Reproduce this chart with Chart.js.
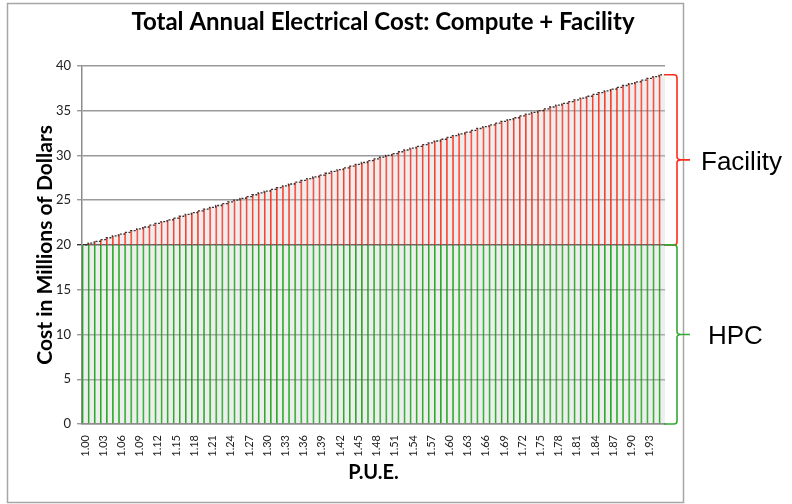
<!DOCTYPE html>
<html>
<head>
<meta charset="utf-8">
<script src="https://cdn.jsdelivr.net/npm/chart.js@4.4.1/dist/chart.umd.min.js"></script>
<style>
  html, body { margin: 0; padding: 0; background: #fff; }
  #wrap { width: 792px; height: 504px; }
</style>
</head>
<body>
<div id="wrap"><canvas id="myChart" width="792" height="504"></canvas></div>
<script>
// P.U.E. categories (every bar), labels shown on every 3rd
const pueLabels = [
    '1.00','1.01','1.02','1.03','1.04','1.05','1.06','1.07','1.08','1.09',
    '1.10','1.11','1.12','1.13','1.14','1.15','1.16','1.17','1.18','1.19',
    '1.20','1.21','1.22','1.23','1.24','1.25','1.26','1.27','1.28','1.29',
    '1.30','1.31','1.32','1.33','1.34','1.35','1.36','1.37','1.38','1.39',
    '1.40','1.41','1.42','1.43','1.44','1.45','1.46','1.47','1.48','1.49',
    '1.50','1.51','1.52','1.53','1.54','1.55','1.56','1.57','1.58','1.59',
    '1.60','1.61','1.62','1.63','1.64','1.65','1.66','1.67','1.68','1.69',
    '1.70','1.71','1.72','1.73','1.74','1.75','1.76','1.77','1.78','1.79',
    '1.80','1.81','1.82','1.83','1.84','1.85','1.86','1.87','1.88','1.89',
    '1.90','1.91','1.92','1.93','1.94','1.95'
];

// HPC (compute) cost, millions of dollars
const hpcCost = [
    20,20,20,20,20,20,20,20,20,20,
    20,20,20,20,20,20,20,20,20,20,
    20,20,20,20,20,20,20,20,20,20,
    20,20,20,20,20,20,20,20,20,20,
    20,20,20,20,20,20,20,20,20,20,
    20,20,20,20,20,20,20,20,20,20,
    20,20,20,20,20,20,20,20,20,20,
    20,20,20,20,20,20,20,20,20,20,
    20,20,20,20,20,20,20,20,20,20,
    20,20,20,20,20,20
];

// Facility cost on top, millions of dollars
const facilityCost = [
    0.0,0.2,0.4,0.6,0.8,1.0,1.2,1.4,1.6,1.8,
    2.0,2.2,2.4,2.6,2.8,3.0,3.2,3.4,3.6,3.8,
    4.0,4.2,4.4,4.6,4.8,5.0,5.2,5.4,5.6,5.8,
    6.0,6.2,6.4,6.6,6.8,7.0,7.2,7.4,7.6,7.8,
    8.0,8.2,8.4,8.6,8.8,9.0,9.2,9.4,9.6,9.8,
    10.0,10.2,10.4,10.6,10.8,11.0,11.2,11.4,11.6,11.8,
    12.0,12.2,12.4,12.6,12.8,13.0,13.2,13.4,13.6,13.8,
    14.0,14.2,14.4,14.6,14.8,15.0,15.2,15.4,15.6,15.8,
    16.0,16.2,16.4,16.6,16.8,17.0,17.2,17.4,17.6,17.8,
    18.0,18.2,18.4,18.6,18.8,19.0
];

const yTicks = [0, 5, 10, 15, 20, 25, 30, 35, 40];

let totalCost = [];
for (let i = 0; i < hpcCost.length; i++) {
    totalCost.push(hpcCost[i] + facilityCost[i]);
}

// outer frame + braces with labels on the right
const extrasPlugin = {
    id: 'extras',
    beforeDraw(chart) {
        const ctx = chart.ctx;
        ctx.save();
        ctx.strokeStyle = '#a6a6a6';
        ctx.lineWidth = 1.5;
        ctx.strokeRect(7.5, 3.5, 676, 499);
        ctx.restore();
    },
    afterDraw(chart) {
        const ctx = chart.ctx;
        const y = chart.scales.y;
        const area = chart.chartArea;
        const x0 = area.right - 1;
        const xb = area.right + 12;

        function brace(top, bottom, color) {
            const mid = (top + bottom) / 2;
            ctx.beginPath();
            ctx.moveTo(x0, top);
            ctx.lineTo(xb - 3, top);
            ctx.quadraticCurveTo(xb, top, xb, top + 3);
            ctx.lineTo(xb, mid - 3);
            ctx.quadraticCurveTo(xb, mid, xb + 4, mid);
            ctx.lineTo(xb + 13, mid);
            ctx.moveTo(xb + 4, mid);
            ctx.quadraticCurveTo(xb, mid, xb, mid + 3);
            ctx.lineTo(xb, bottom - 3);
            ctx.quadraticCurveTo(xb, bottom, xb - 3, bottom);
            ctx.lineTo(x0, bottom);
            ctx.strokeStyle = color;
            ctx.lineWidth = 1.6;
            ctx.stroke();
            return mid;
        }

        ctx.save();
        const maxTotal = Math.max.apply(null, totalCost);
        const facMid = brace(y.getPixelForValue(maxTotal), y.getPixelForValue(hpcCost[0]), '#ff2a1a');
        const hpcMid = brace(y.getPixelForValue(hpcCost[0]), y.getPixelForValue(0), '#33a833');

        ctx.fillStyle = '#000';
        ctx.font = '26px "Liberation Sans", Arial, sans-serif';
        ctx.textBaseline = 'middle';
        ctx.textAlign = 'left';
        ctx.fillText('Facility', xb + 24, facMid + 3);
        ctx.fillText('HPC', xb + 31, hpcMid + 2);
        ctx.restore();
    }
};

const ctx = document.getElementById('myChart').getContext('2d');
const myChart = new Chart(ctx, {
    data: {
        labels: pueLabels,
        datasets: [
            {
                type: 'line',
                label: 'Top',
                data: totalCost,
                stack: 'edge',
                borderColor: '#333333',
                borderWidth: 1.3,
                borderDash: [2, 1.5],
                stepped: 'middle',
                pointRadius: 0,
                fill: false,
                order: 0
            },
            {
                type: 'bar',
                label: 'HPC',
                data: hpcCost,
                stack: 'cost',
                backgroundColor: 'rgba(205,205,205,0.35)',
                borderColor: 'rgba(0,160,0,0.85)',
                borderWidth: { left: 1.2, right: 0, top: 0, bottom: 0 },
                borderSkipped: false,
                barPercentage: 1,
                categoryPercentage: 1,
                order: 2
            },
            {
                type: 'bar',
                label: 'Facility',
                data: facilityCost,
                stack: 'cost',
                backgroundColor: 'rgba(205,205,205,0.35)',
                borderColor: 'rgba(255,30,10,0.85)',
                borderWidth: { left: 1.2, right: 0, top: 0, bottom: 0 },
                borderSkipped: false,
                barPercentage: 1,
                categoryPercentage: 1,
                order: 2
            }
        ]
    },
    options: {
        responsive: false,
        animation: false,
        layout: { padding: { left: 0, right: 26, top: 0, bottom: 0 } },
        plugins: {
            legend: { display: false },
            tooltip: { enabled: false },
            title: {
                display: true,
                text: 'Total Annual Electrical Cost: Compute + Facility',
                color: '#000',
                font: { family: 'Lato', size: 24, weight: 'bold' },
                padding: { top: 8, bottom: 29 }
            }
        },
        scales: {
            x: {
                stacked: true,
                grid: { display: false },
                border: { display: true, color: '#8c8c8c', width: 1.5 },
                ticks: {
                    autoSkip: false,
                    minRotation: 90,
                    maxRotation: 90,
                    padding: 3,
                    color: '#222',
                    font: { family: 'Lato', size: 11 },
                    callback: function (value, index) {
                        return index % 3 === 0 ? pueLabels[index] : '';
                    }
                },
                title: {
                    display: true,
                    text: 'P.U.E.',
                    color: '#000',
                    font: { family: 'Lato', size: 20, weight: 'bold' },
                    padding: { top: 0, bottom: 19 }
                },
                afterFit: function (scale) { scale.height = 80; }
            },
            y: {
                stacked: true,
                min: 0,
                max: 40,
                z: 1,
                afterBuildTicks: function (scale) {
                    scale.ticks = yTicks.map(v => ({ value: v }));
                },
                grid: {
                    color: function (c) {
                        return c.tick && c.tick.value === hpcCost[0] ? '#333333' : '#9a9a9a';
                    },
                    lineWidth: 1.4,
                    tickLength: 5,
                    drawTicks: true
                },
                border: { display: true, color: '#8c8c8c', width: 1.5 },
                ticks: {
                    padding: 6,
                    color: '#222',
                    font: { family: 'Lato', size: 13 }
                },
                title: {
                    display: true,
                    text: 'Cost in Millions of Dollars',
                    color: '#000',
                    font: { family: 'Lato', size: 21, weight: 'bold' },
                    padding: { top: 33, bottom: 0 }
                },
                afterFit: function (scale) { scale.width = 82; }
            },
            yr: {
                type: 'linear',
                position: 'right',
                display: true,
                grid: { display: false },
                border: { display: false },
                ticks: { display: false },
                afterFit: function (scale) { scale.width = 101; }
            }
        }
    },
    plugins: [extrasPlugin]
});
</script>
</body>
</html>
